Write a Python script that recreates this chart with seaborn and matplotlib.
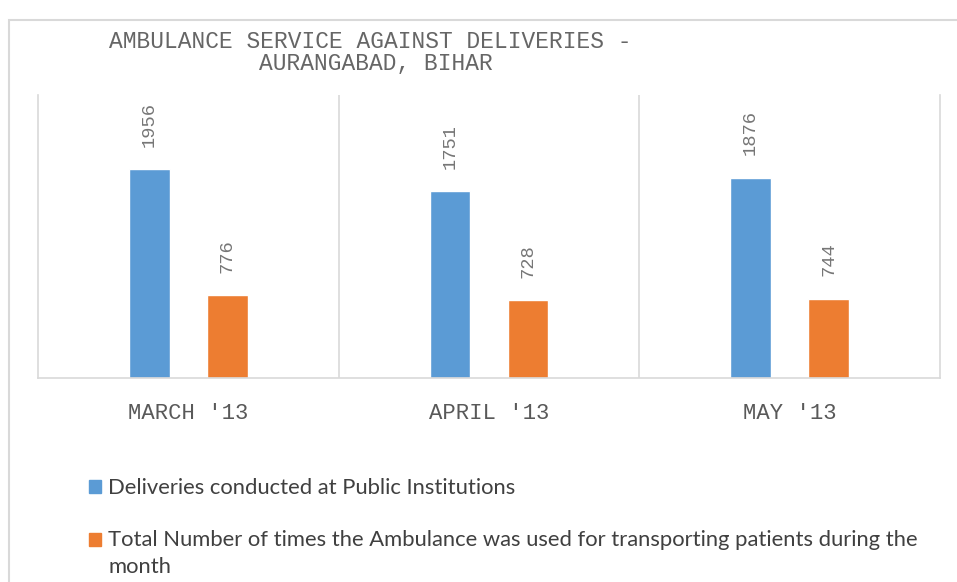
import matplotlib
matplotlib.use("Agg")
import matplotlib.pyplot as plt
import seaborn as sns
import pandas as pd
from matplotlib.patches import Rectangle

months = ["MARCH '13", "APRIL '13", "MAY '13"]
deliveries = [1956, 1751, 1876]
ambulance = [776, 728, 744]
series_names = ["Deliveries conducted at Public Institutions",
                "Total Number of times the Ambulance was used for transporting patients during the\nmonth"]
colors = ["#5B9BD5", "#ED7D31"]
title_lines = ["AMBULANCE SERVICE AGAINST DELIVERIES -", "AURANGABAD, BIHAR"]

df = pd.DataFrame({
    "month": months * 2,
    "value": deliveries + ambulance,
    "series": [series_names[0]] * 3 + [series_names[1]] * 3,
})

sns.set_theme(style="white")
plt.rcParams['font.family'] = ['Lato', 'DejaVu Sans']

W, H = 957, 582
fig = plt.figure(figsize=(W / 100, H / 100), dpi=100)
ax = fig.add_axes([38 / W, 1 - 378 / H, (940 - 38) / W, (378 - 95) / H])

sns.barplot(data=df, x="month", y="value", hue="series", palette=colors,
            width=0.52, gap=0.48, ax=ax, legend=False, saturation=1)

ax.set_xlim(-0.5, 2.5)
ax.set_ylim(0, 2650)
ax.set_xlabel("")
ax.set_ylabel("")
ax.set_yticks([])
ax.tick_params(axis="x", length=0, pad=18)
for lbl in ax.get_xticklabels():
    lbl.set_fontsize(16)
    lbl.set_color("#595959")
    lbl.set_family(["Liberation Mono", "DejaVu Sans Mono"])
ax.spines["top"].set_visible(False)
for s in ["left", "right", "bottom"]:
    ax.spines[s].set_color("#d9d9d9")
    ax.spines[s].set_linewidth(1.2)
for xv in [0.5, 1.5]:
    ax.axvline(xv, color="#d9d9d9", lw=1.2, zorder=0)

for cont in ax.containers:
    ax.bar_label(cont, rotation=90, padding=16, color="#767676", fontsize=13.5,
                 family=["Liberation Mono", "DejaVu Sans Mono"])

# outer chart frame
fig.patches.append(Rectangle((9 / W, -0.1), 1.2, 1.1 - 20 / H, transform=fig.transFigure,
                             fill=False, edgecolor="#d9d9d9", lw=1.5))

fig.text(370 / W, 1 - 42 / H, title_lines[0], ha="center", va="center", fontsize=16.5,
         color="#666666", family=["Liberation Mono", "DejaVu Sans Mono"])
fig.text(376 / W, 1 - 64 / H, title_lines[1], ha="center", va="center", fontsize=16.5,
         color="#666666", family=["Liberation Mono", "DejaVu Sans Mono"])

# legend (square markers + labels)
legend_y = [486.5, 539.5]
for c, name, yc in zip(colors, series_names, legend_y):
    fig.patches.append(Rectangle((89 / W, 1 - (yc + 6.5) / H), 12 / W, 13 / H,
                                 transform=fig.transFigure, color=c))
    fig.text(108 / W, 1 - (yc - 9) / H, name, ha="left", va="top", fontsize=15.8,
             color="#404040", linespacing=1.4)

fig.savefig("out.png", dpi=100)
